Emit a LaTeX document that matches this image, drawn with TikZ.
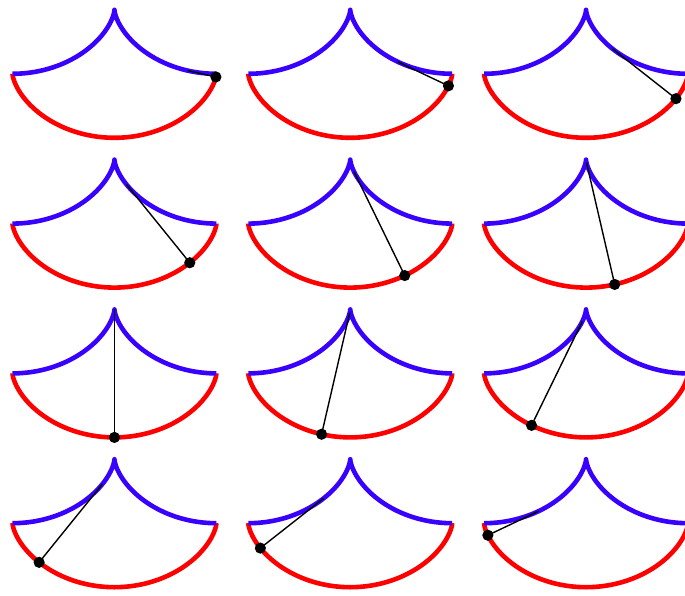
\documentclass[tikz,border=0pt]{standalone}
\definecolor{evoblue}{RGB}{56,0,255}
\definecolor{cycred}{RGB}{255,0,0}
\tikzset{
  cycloid/.style={draw=cycred, line width=4.6pt},
  evolute/.style={draw=evoblue, line width=4.6pt, line join=round},
  normalline/.style={draw=black, line width=1.4pt},
  dotmark/.style={fill=black}
}
\begin{document}
\begin{tikzpicture}[x=1pt,y=-1pt]
\useasboundingbox (0,0) rectangle (685,596);
\clip (0,0) rectangle (685,596);
\foreach \row in {0,...,3} {
  \foreach \col in {0,1,2} {
    \pgfmathsetmacro{\k}{int(\row*3+\col+1)}
    \pgfmathsetmacro{\tt}{pi+(7-\k)*pi/7}
    \pgfmathsetmacro{\ox}{12.5+235.8*\col}
    \pgfmathsetmacro{\oy}{73.8+149.8*\row}
    \begin{scope}[shift={(\ox,\oy)}]
      \draw[cycloid] plot[domain=0:2*pi, samples=141, variable=\t]
        ({32.45*(\t-sin(\t r))},{32*(1-cos(\t r))});
      \draw[evolute] plot[domain=0:2*pi, samples=141, variable=\t]
        ({32.45*(\t+sin(\t r))},{-32*(1-cos(\t r))});
      \coordinate (p\k) at ({32.45*(\tt-sin(\tt r))},{32*(1-cos(\tt r))});
      \coordinate (c\k) at ({32.45*(\tt+sin(\tt r))},{-32*(1-cos(\tt r))});
      \draw[normalline] (p\k) -- (c\k);
      \fill[dotmark] (p\k) circle (5.6pt);
    \end{scope}
  }
}
\end{tikzpicture}
\end{document}
